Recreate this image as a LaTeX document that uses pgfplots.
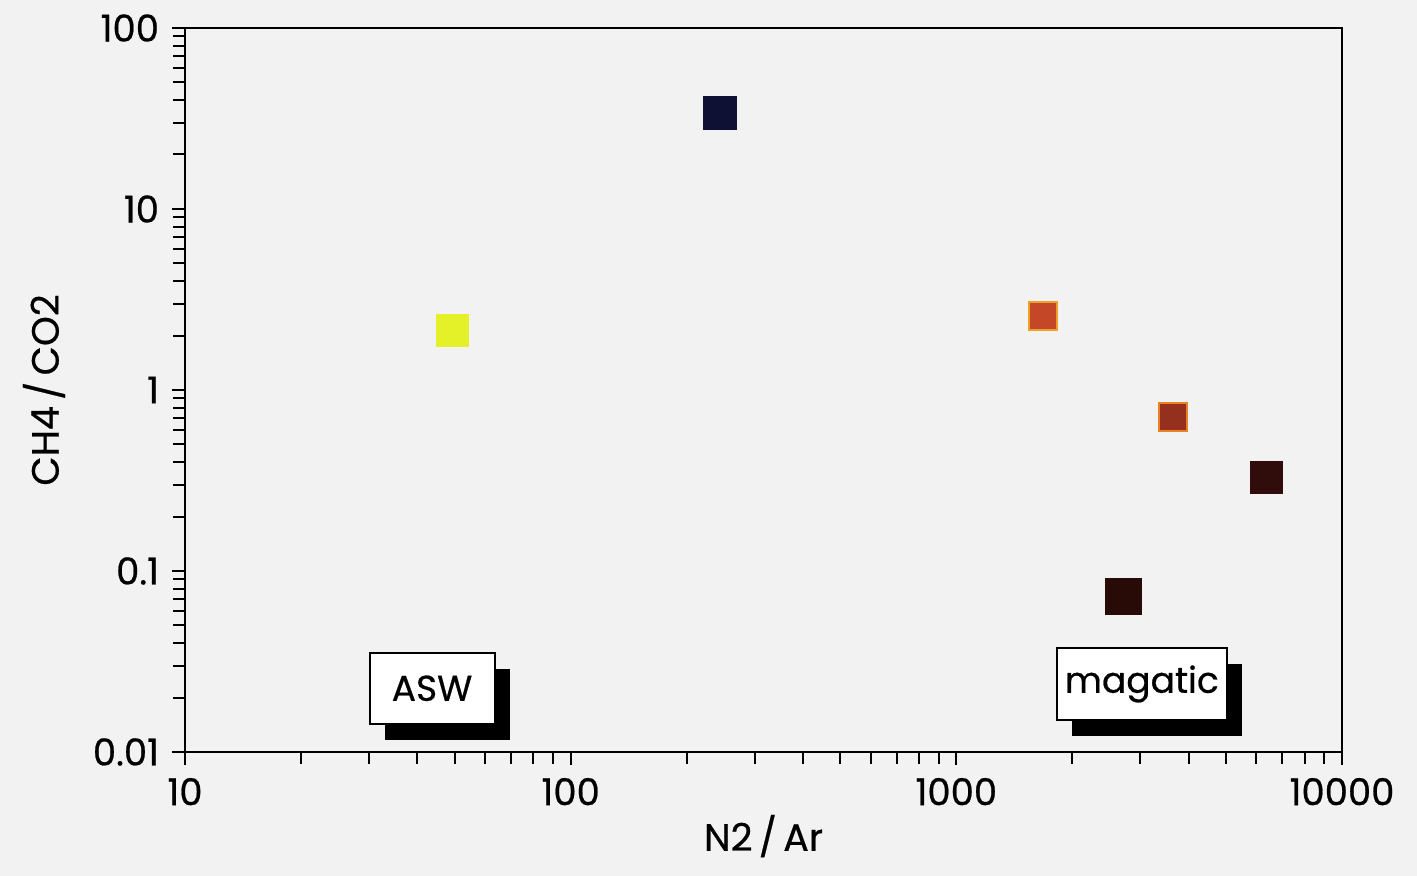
\documentclass[border=0pt]{standalone}
\usepackage{fontspec}
\setmainfont{Poppins}[FakeBold=0.6]
\usepackage{pgfplots}
\pgfplotsset{compat=1.18}
\definecolor{paper}{RGB}{242,242,242}
\definecolor{cyel}{RGB}{228,240,40}
\definecolor{cnavy}{RGB}{14,16,52}
\definecolor{cred}{RGB}{196,72,40}
\definecolor{credb}{RGB}{238,160,40}
\definecolor{corg}{RGB}{150,48,30}
\definecolor{corgb}{RGB}{232,130,40}
\definecolor{cdk}{RGB}{48,12,10}
\definecolor{cdk2}{RGB}{40,10,6}
\begin{document}
\begin{tikzpicture}
\path[fill=paper, use as bounding box] (0,0) rectangle (708.5pt,438pt);
\begin{axis}[
  at={(92.5pt,62pt)}, anchor=south west,
  scale only axis, width=578.5pt, height=362pt,
  xmode=log, ymode=log,
  xmin=10, xmax=10000, ymin=0.01, ymax=100,
  xtick={10,100,1000,10000}, xticklabels={10,100,1000,10000},
  ytick={0.01,0.1,1,10,100}, yticklabels={0.01,0.1,1,10,100},
  tick align=outside, xtick pos=lower, ytick pos=left,
  major tick length=6.5pt, minor tick length=6pt,
  every tick/.style={black, line width=1pt},
  axis line style={line width=1pt},
  axis background/.style={fill=paper},
  ticklabel style={font=\fontsize{18.5}{22}\selectfont},
  /pgf/number format/assume math mode=true,
  xticklabel style={yshift=-3pt},
  yticklabel style={xshift=-3pt},
  xlabel={N2\,/\,Ar}, ylabel={CH4\,/\,CO2},
  label style={font=\fontsize{19}{22}\selectfont},
  xlabel style={yshift=2pt},
  ylabel style={yshift=7pt},
  clip=false,
]
\addplot[only marks, mark=square*, mark size=8pt, mark options={fill=cyel, draw=cyel}] coordinates {(49.5,2.14)};
\addplot[only marks, mark=square*, mark size=8.3pt, mark options={fill=cnavy, draw=cnavy}] coordinates {(244,33.9)};
\addplot[only marks, mark=square*, mark size=7pt, mark options={fill=cred, draw=credb, line width=1pt}] coordinates {(1677,2.56)};
\addplot[only marks, mark=square*, mark size=7.2pt, mark options={fill=corg, draw=corgb, line width=1pt}] coordinates {(3644,0.710)};
\addplot[only marks, mark=square*, mark size=8pt, mark options={fill=cdk, draw=cdk}] coordinates {(6349,0.327)};
\addplot[only marks, mark=square*, mark size=9pt, mark options={fill=cdk2, draw=cdk2}] coordinates {(2704,0.0728)};
\node[fill=black, minimum width=62.5pt, minimum height=35.5pt, inner sep=0pt, xshift=7.5pt, yshift=-8pt] at (rel axis cs:0.2135,0.088) {};
\node[fill=white, draw=black, line width=1pt, minimum width=62.5pt, minimum height=35.5pt, inner sep=0pt, font=\fontsize{18}{21}\selectfont] at (rel axis cs:0.2135,0.088) {ASW};
\node[fill=black, minimum width=85pt, minimum height=36pt, inner sep=0pt, xshift=7.5pt, yshift=-8pt] at (rel axis cs:0.827,0.094) {};
\node[fill=white, draw=black, line width=1pt, minimum width=85pt, minimum height=36pt, inner sep=0pt, font=\fontsize{18}{21}\selectfont] at (rel axis cs:0.827,0.094) {magatic};
\end{axis}
\end{tikzpicture}
\end{document}
